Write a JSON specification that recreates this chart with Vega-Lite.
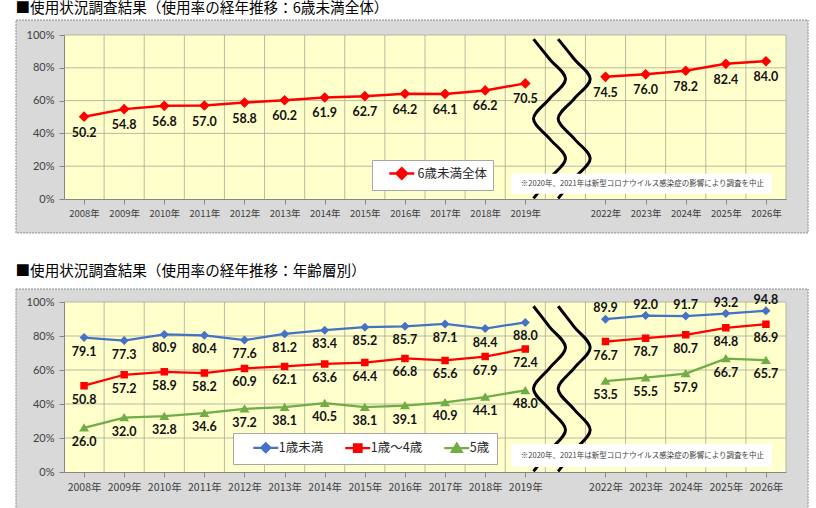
{
  "$schema": "https://vega.github.io/schema/vega-lite/v6.json",
  "padding": {"left": 15, "right": 9, "top": 0, "bottom": 3},
  "background": "#FFFFFF",
  "spacing": 29,
  "config": {
    "view": {"stroke": null},
    "font": "Noto Sans CJK JP",
    "title": {"anchor": "start", "fontSize": 14.6, "fontWeight": "normal", "color": "#000000", "font": "Noto Sans CJK JP"},
    "axis": {
      "zindex": 1, "grid": false, "title": null,
      "domainColor": "#868686", "tickColor": "#868686", "tickSize": 5,
      "labelColor": "#404040", "labelOverlap": false, "labelFlush": false
    }
  },
  "resolve": {"scale": {"color": "independent", "shape": "independent", "stroke": "independent"}, "legend": {"color": "independent", "shape": "independent", "stroke": "independent"}},
  "datasets": {
    "total": [
      {"series": "6歳未満全体", "year": 2008, "rate": 50.2},
      {"series": "6歳未満全体", "year": 2009, "rate": 54.8},
      {"series": "6歳未満全体", "year": 2010, "rate": 56.8},
      {"series": "6歳未満全体", "year": 2011, "rate": 57.0},
      {"series": "6歳未満全体", "year": 2012, "rate": 58.8},
      {"series": "6歳未満全体", "year": 2013, "rate": 60.2},
      {"series": "6歳未満全体", "year": 2014, "rate": 61.9},
      {"series": "6歳未満全体", "year": 2015, "rate": 62.7},
      {"series": "6歳未満全体", "year": 2016, "rate": 64.2},
      {"series": "6歳未満全体", "year": 2017, "rate": 64.1},
      {"series": "6歳未満全体", "year": 2018, "rate": 66.2},
      {"series": "6歳未満全体", "year": 2019, "rate": 70.5},
      {"series": "6歳未満全体", "year": 2022, "rate": 74.5},
      {"series": "6歳未満全体", "year": 2023, "rate": 76.0},
      {"series": "6歳未満全体", "year": 2024, "rate": 78.2},
      {"series": "6歳未満全体", "year": 2025, "rate": 82.4},
      {"series": "6歳未満全体", "year": 2026, "rate": 84.0}
    ],
    "age": [
      {"series": "1歳未満", "year": 2008, "rate": 79.1},
      {"series": "1歳未満", "year": 2009, "rate": 77.3},
      {"series": "1歳未満", "year": 2010, "rate": 80.9},
      {"series": "1歳未満", "year": 2011, "rate": 80.4},
      {"series": "1歳未満", "year": 2012, "rate": 77.6},
      {"series": "1歳未満", "year": 2013, "rate": 81.2},
      {"series": "1歳未満", "year": 2014, "rate": 83.4},
      {"series": "1歳未満", "year": 2015, "rate": 85.2},
      {"series": "1歳未満", "year": 2016, "rate": 85.7},
      {"series": "1歳未満", "year": 2017, "rate": 87.1},
      {"series": "1歳未満", "year": 2018, "rate": 84.4},
      {"series": "1歳未満", "year": 2019, "rate": 88.0},
      {"series": "1歳未満", "year": 2022, "rate": 89.9},
      {"series": "1歳未満", "year": 2023, "rate": 92.0},
      {"series": "1歳未満", "year": 2024, "rate": 91.7},
      {"series": "1歳未満", "year": 2025, "rate": 93.2},
      {"series": "1歳未満", "year": 2026, "rate": 94.8},
      {"series": "1歳～4歳", "year": 2008, "rate": 50.8},
      {"series": "1歳～4歳", "year": 2009, "rate": 57.2},
      {"series": "1歳～4歳", "year": 2010, "rate": 58.9},
      {"series": "1歳～4歳", "year": 2011, "rate": 58.2},
      {"series": "1歳～4歳", "year": 2012, "rate": 60.9},
      {"series": "1歳～4歳", "year": 2013, "rate": 62.1},
      {"series": "1歳～4歳", "year": 2014, "rate": 63.6},
      {"series": "1歳～4歳", "year": 2015, "rate": 64.4},
      {"series": "1歳～4歳", "year": 2016, "rate": 66.8},
      {"series": "1歳～4歳", "year": 2017, "rate": 65.6},
      {"series": "1歳～4歳", "year": 2018, "rate": 67.9},
      {"series": "1歳～4歳", "year": 2019, "rate": 72.4},
      {"series": "1歳～4歳", "year": 2022, "rate": 76.7},
      {"series": "1歳～4歳", "year": 2023, "rate": 78.7},
      {"series": "1歳～4歳", "year": 2024, "rate": 80.7},
      {"series": "1歳～4歳", "year": 2025, "rate": 84.8},
      {"series": "1歳～4歳", "year": 2026, "rate": 86.9},
      {"series": "5歳", "year": 2008, "rate": 26.0},
      {"series": "5歳", "year": 2009, "rate": 32.0},
      {"series": "5歳", "year": 2010, "rate": 32.8},
      {"series": "5歳", "year": 2011, "rate": 34.6},
      {"series": "5歳", "year": 2012, "rate": 37.2},
      {"series": "5歳", "year": 2013, "rate": 38.1},
      {"series": "5歳", "year": 2014, "rate": 40.5},
      {"series": "5歳", "year": 2015, "rate": 38.1},
      {"series": "5歳", "year": 2016, "rate": 39.1},
      {"series": "5歳", "year": 2017, "rate": 40.9},
      {"series": "5歳", "year": 2018, "rate": 44.1},
      {"series": "5歳", "year": 2019, "rate": 48.0},
      {"series": "5歳", "year": 2022, "rate": 53.5},
      {"series": "5歳", "year": 2023, "rate": 55.5},
      {"series": "5歳", "year": 2024, "rate": 57.9},
      {"series": "5歳", "year": 2025, "rate": 66.7},
      {"series": "5歳", "year": 2026, "rate": 65.7}
    ],
    "wave": [
      {"curve": "L", "k": 0, "year": 2019.205, "rate": 97.5},
      {"curve": "L", "k": 1, "year": 2019.708, "rate": 85.4},
      {"curve": "L", "k": 2, "year": 2020.506, "rate": 73.2},
      {"curve": "L", "k": 3, "year": 2019.708, "rate": 61.1},
      {"curve": "L", "k": 4, "year": 2019.205, "rate": 48.9},
      {"curve": "L", "k": 5, "year": 2019.708, "rate": 36.8},
      {"curve": "L", "k": 6, "year": 2020.506, "rate": 24.7},
      {"curve": "L", "k": 7, "year": 2019.708, "rate": 12.5},
      {"curve": "L", "k": 8, "year": 2019.205, "rate": 0.4},
      {"curve": "R", "k": 0, "year": 2020.14, "rate": 97.5},
      {"curve": "R", "k": 1, "year": 2020.938, "rate": 85.4},
      {"curve": "R", "k": 2, "year": 2021.618, "rate": 73.2},
      {"curve": "R", "k": 3, "year": 2020.938, "rate": 61.1},
      {"curve": "R", "k": 4, "year": 2020.14, "rate": 48.9},
      {"curve": "R", "k": 5, "year": 2020.938, "rate": 36.8},
      {"curve": "R", "k": 6, "year": 2021.618, "rate": 24.7},
      {"curve": "R", "k": 7, "year": 2020.938, "rate": 12.5},
      {"curve": "R", "k": 8, "year": 2020.14, "rate": 0.4}
    ],
    "vgrid": [
      {"gx": 2008.5}, {"gx": 2009.5}, {"gx": 2010.5}, {"gx": 2011.5}, {"gx": 2012.5},
      {"gx": 2013.5}, {"gx": 2014.5}, {"gx": 2015.5}, {"gx": 2016.5}, {"gx": 2017.5},
      {"gx": 2018.5}, {"gx": 2019.5}, {"gx": 2021.5}, {"gx": 2022.5}, {"gx": 2023.5},
      {"gx": 2024.5}, {"gx": 2025.5}, {"gx": 2026.5}
    ],
    "hgrid": [{"gy": 20}, {"gy": 40}, {"gy": 60}, {"gy": 80}, {"gy": 100}],
    "note": [{"note": "※2020年、2021年は新型コロナウイルス感染症の影響により調査を中止"}]
  },
  "vconcat": [
    {
      "title": {"text": "■使用状況調査結果（使用率の経年推移：6歳未満全体）", "offset": 4},
      "width": 722,
      "height": 164,
      "layer": [
        {
          "data": {"values": [{}]},
          "mark": {"type": "rect", "fill": "#D9D9D9", "stroke": "#8C8C8C", "strokeWidth": 1, "strokeDash": [2, 1]},
          "encoding": {
            "x": {
              "datum": 2006.303, "type": "quantitative",
              "scale": {"domain": [2007.5, 2019.5, 2021.5, 2026.5], "range": [0, 481.33, 521.44, 722], "nice": false, "zero": false},
              "axis": {"zindex": 1, "title": null, "ticks": true, "tickSize": 5, "tickCount": 40, "labelOverlap": false, "labelBound": false, "values": [2008, 2009, 2010, 2011, 2012, 2013, 2014, 2015, 2016, 2017, 2018, 2019, 2022, 2023, 2024, 2025, 2026], "labelExpr": "datum.value + '年'", "labelFont": "Noto Sans CJK JP", "labelFontSize": 9.5, "labelPadding": 4}
            },
            "x2": {"datum": 2027.05},
            "y": {
              "datum": -20.7, "type": "quantitative",
              "scale": {"domain": [0, 100], "nice": false, "zero": false},
              "axis": {"zindex": 1, "title": null, "ticks": true, "tickSize": 5, "tickCount": 12, "labelOverlap": false, "labelBound": false, "values": [0, 20, 40, 60, 80, 100], "labelExpr": "datum.value + '%'", "labelFont": "Lato", "labelFontSize": 11, "labelPadding": 5}
            },
            "y2": {"datum": 109.15}
          }
        },
        {
          "data": {"values": [{}]},
          "mark": {"type": "rect", "fill": "#FFFFCC"},
          "encoding": {
            "x": {"datum": 2007.5, "type": "quantitative"},
            "x2": {"datum": 2026.5},
            "y": {"datum": 0, "type": "quantitative"},
            "y2": {"datum": 100}
          }
        },
        {
          "data": {"name": "hgrid"},
          "mark": {"type": "rule", "color": "#A8A896", "strokeWidth": 0.8},
          "encoding": {"y": {"field": "gy", "type": "quantitative"}}
        },
        {
          "data": {"name": "vgrid"},
          "mark": {"type": "rule", "color": "#A8A896", "strokeWidth": 0.8},
          "encoding": {"x": {"field": "gx", "type": "quantitative"}}
        },
        {
          "data": {"name": "wave"},
          "mark": {"type": "line", "color": "#000000", "strokeWidth": 3, "interpolate": "catmull-rom"},
          "encoding": {
            "x": {"field": "year", "type": "quantitative"},
            "y": {"field": "rate", "type": "quantitative"},
            "detail": {"field": "curve"},
            "order": {"field": "k"}
          }
        },
        {
          "data": {"name": "total"},
          "transform": [{"filter": "datum.year < 2020"}],
          "mark": {"type": "line", "strokeWidth": 2.5},
          "encoding": {
            "x": {"field": "year", "type": "quantitative"},
            "y": {"field": "rate", "type": "quantitative"},
            "stroke": {"field": "series", "type": "nominal", "scale": {"domain": ["6歳未満全体"], "range": ["#FF0000"]}, "legend": {}}
          }
        },
        {
          "data": {"name": "total"},
          "transform": [{"filter": "datum.year > 2020"}],
          "mark": {"type": "line", "strokeWidth": 2.5},
          "encoding": {
            "x": {"field": "year", "type": "quantitative"},
            "y": {"field": "rate", "type": "quantitative"},
            "stroke": {"field": "series", "type": "nominal", "scale": {"domain": ["6歳未満全体"], "range": ["#FF0000"]}, "legend": {}}
          }
        },
        {
          "data": {"name": "total"},
          "mark": {"type": "point", "filled": true, "size": 156.25, "opacity": 1},
          "encoding": {
            "x": {"field": "year", "type": "quantitative"},
            "y": {"field": "rate", "type": "quantitative"},
            "color": {"field": "series", "type": "nominal", "scale": {"domain": ["6歳未満全体"], "range": ["#FF0000"]}, "legend": {}},
            "shape": {
              "field": "series", "type": "nominal",
              "scale": {"domain": ["6歳未満全体"], "range": ["M-2,0H2M0,-0.85L0.85,0L0,0.85L-0.85,0Z"]},
              "legend": {
                "orient": "none", "legendX": 308, "legendY": 125, "title": null,
                "fillColor": "#FFFFFF", "strokeColor": "#A6A6A6", "padding": 6,
                "symbolSize": 156.25, "symbolOffset": 16.25, "labelOffset": 8.25, "symbolStrokeWidth": 2.5, "symbolOpacity": 1,
                "labelFont": "Noto Sans CJK JP", "labelFontSize": 12.5, "labelColor": "#262626"
              }
            }
          }
        },
        {
          "data": {"name": "total"},
          "mark": {"type": "text", "font": "Lato", "fontWeight": "bold", "fontSize": 12.5, "color": "#111111", "baseline": "middle", "dy": 16},
          "encoding": {
            "x": {"field": "year", "type": "quantitative"},
            "y": {"field": "rate", "type": "quantitative"},
            "text": {"field": "rate", "type": "quantitative", "format": ".1f"}
          }
        },
        {
          "data": {"values": [{}]},
          "mark": {"type": "rect", "fill": "#FFFFFF"},
          "encoding": {
            "x": {"datum": 2018.64, "type": "quantitative"},
            "x2": {"datum": 2026.15},
            "y": {"datum": 3.2, "type": "quantitative"},
            "y2": {"datum": 15.4}
          }
        },
        {
          "data": {"name": "note"},
          "mark": {"type": "text", "font": "Noto Sans CJK JP", "fontSize": 7.5, "color": "#404040", "align": "left", "baseline": "middle"},
          "encoding": {
            "x": {"datum": 2018.89, "type": "quantitative"},
            "y": {"datum": 9.3, "type": "quantitative"},
            "text": {"field": "note"}
          }
        }
      ]
    },
    {
      "title": {"text": "■使用状況調査結果（使用率の経年推移：年齢層別）", "offset": 10},
      "width": 722,
      "height": 170,
      "layer": [
        {
          "data": {"values": [{}]},
          "mark": {"type": "rect", "fill": "#D9D9D9", "stroke": "#8C8C8C", "strokeWidth": 1, "strokeDash": [2, 1]},
          "encoding": {
            "x": {
              "datum": 2006.303, "type": "quantitative",
              "scale": {"domain": [2007.5, 2019.5, 2021.5, 2026.5], "range": [0, 481.33, 521.44, 722], "nice": false, "zero": false},
              "axis": {"zindex": 1, "title": null, "ticks": true, "tickSize": 5, "tickCount": 40, "labelOverlap": false, "labelBound": false, "values": [2008, 2009, 2010, 2011, 2012, 2013, 2014, 2015, 2016, 2017, 2018, 2019, 2022, 2023, 2024, 2025, 2026], "labelExpr": "datum.value + '年'", "labelFont": "Noto Sans CJK JP", "labelFontSize": 10.5, "labelPadding": 5}
            },
            "x2": {"datum": 2027.05},
            "y": {
              "datum": -21.8, "type": "quantitative",
              "scale": {"domain": [0, 100], "nice": false, "zero": false},
              "axis": {"zindex": 1, "title": null, "ticks": true, "tickSize": 5, "tickCount": 12, "labelOverlap": false, "labelBound": false, "values": [0, 20, 40, 60, 80, 100], "labelExpr": "datum.value + '%'", "labelFont": "Lato", "labelFontSize": 11, "labelPadding": 5}
            },
            "y2": {"datum": 107.65}
          }
        },
        {
          "data": {"values": [{}]},
          "mark": {"type": "rect", "fill": "#FFFFCC"},
          "encoding": {
            "x": {"datum": 2007.5, "type": "quantitative"},
            "x2": {"datum": 2026.5},
            "y": {"datum": 0, "type": "quantitative"},
            "y2": {"datum": 100}
          }
        },
        {
          "data": {"name": "hgrid"},
          "mark": {"type": "rule", "color": "#A8A896", "strokeWidth": 0.8},
          "encoding": {"y": {"field": "gy", "type": "quantitative"}}
        },
        {
          "data": {"name": "vgrid"},
          "mark": {"type": "rule", "color": "#A8A896", "strokeWidth": 0.8},
          "encoding": {"x": {"field": "gx", "type": "quantitative"}}
        },
        {
          "data": {"name": "wave"},
          "mark": {"type": "line", "color": "#000000", "strokeWidth": 3, "interpolate": "catmull-rom"},
          "encoding": {
            "x": {"field": "year", "type": "quantitative"},
            "y": {"field": "rate", "type": "quantitative"},
            "detail": {"field": "curve"},
            "order": {"field": "k"}
          }
        },
        {
          "data": {"name": "age"},
          "transform": [{"filter": "datum.year < 2020"}],
          "mark": {"type": "line", "strokeWidth": 2.25},
          "encoding": {
            "x": {"field": "year", "type": "quantitative"},
            "y": {"field": "rate", "type": "quantitative"},
            "stroke": {"field": "series", "type": "nominal", "scale": {"domain": ["1歳未満", "1歳～4歳", "5歳"], "range": ["#4472C4", "#FF0000", "#70AD47"]}, "legend": {}}
          }
        },
        {
          "data": {"name": "age"},
          "transform": [{"filter": "datum.year > 2020"}],
          "mark": {"type": "line", "strokeWidth": 2.25},
          "encoding": {
            "x": {"field": "year", "type": "quantitative"},
            "y": {"field": "rate", "type": "quantitative"},
            "stroke": {"field": "series", "type": "nominal", "scale": {"domain": ["1歳未満", "1歳～4歳", "5歳"], "range": ["#4472C4", "#FF0000", "#70AD47"]}, "legend": {}}
          }
        },
        {
          "data": {"name": "age"},
          "mark": {"type": "point", "filled": true, "size": 156.25, "opacity": 1},
          "encoding": {
            "x": {"field": "year", "type": "quantitative"},
            "y": {"field": "rate", "type": "quantitative"},
            "color": {"field": "series", "type": "nominal", "scale": {"domain": ["1歳未満", "1歳～4歳", "5歳"], "range": ["#4472C4", "#FF0000", "#70AD47"]}, "legend": {}},
            "shape": {
              "field": "series", "type": "nominal",
              "scale": {"domain": ["1歳未満", "1歳～4歳", "5歳"], "range": ["M-2,0H2M0,-0.72L0.72,0L0,0.72L-0.72,0Z", "M-2,0H2M-0.6,-0.6H0.6V0.6H-0.6Z", "M-2,0H2M0,-0.72L0.8,0.6H-0.8Z"]},
              "legend": {
                "orient": "none", "legendX": 169, "legendY": 131, "title": null, "direction": "horizontal",
                "fillColor": "#FFFFFF", "strokeColor": "#A6A6A6", "padding": 7,
                "symbolSize": 156.25, "symbolOffset": 18.25, "labelOffset": 5.5, "columnPadding": 8, "symbolStrokeWidth": 2.25, "symbolOpacity": 1,
                "labelFont": "Noto Sans CJK JP", "labelFontSize": 12.5, "labelColor": "#262626"
              }
            }
          }
        },
        {
          "data": {"name": "age"},
          "transform": [{"filter": "!(datum.series == '1歳未満' && datum.year > 2020)"}],
          "mark": {"type": "text", "font": "Lato", "fontWeight": "bold", "fontSize": 12.5, "color": "#111111", "baseline": "middle", "dy": 14},
          "encoding": {
            "x": {"field": "year", "type": "quantitative"},
            "y": {"field": "rate", "type": "quantitative"},
            "text": {"field": "rate", "type": "quantitative", "format": ".1f"}
          }
        },
        {
          "data": {"name": "age"},
          "transform": [{"filter": "datum.series == '1歳未満' && datum.year > 2020"}],
          "mark": {"type": "text", "font": "Lato", "fontWeight": "bold", "fontSize": 12.5, "color": "#111111", "baseline": "middle", "dy": -11},
          "encoding": {
            "x": {"field": "year", "type": "quantitative"},
            "y": {"field": "rate", "type": "quantitative"},
            "text": {"field": "rate", "type": "quantitative", "format": ".1f"}
          }
        },
        {
          "data": {"values": [{}]},
          "mark": {"type": "rect", "fill": "#FFFFFF"},
          "encoding": {
            "x": {"datum": 2018.64, "type": "quantitative"},
            "x2": {"datum": 2026.15},
            "y": {"datum": 2.9, "type": "quantitative"},
            "y2": {"datum": 16.5}
          }
        },
        {
          "data": {"name": "note"},
          "mark": {"type": "text", "font": "Noto Sans CJK JP", "fontSize": 7.5, "color": "#404040", "align": "left", "baseline": "middle"},
          "encoding": {
            "x": {"datum": 2018.89, "type": "quantitative"},
            "y": {"datum": 9.7, "type": "quantitative"},
            "text": {"field": "note"}
          }
        }
      ]
    }
  ]
}
